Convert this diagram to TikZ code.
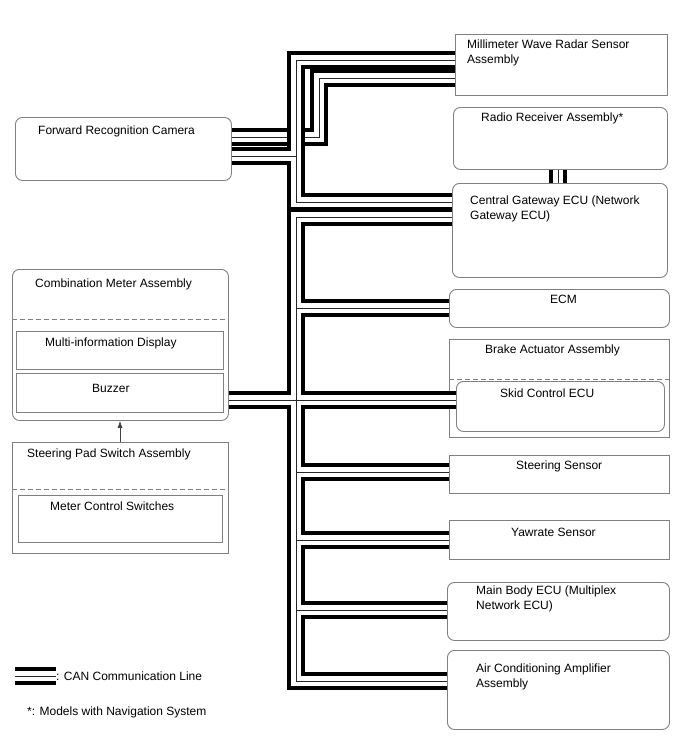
\documentclass[tikz,border=0pt]{standalone}
\usepackage{fontspec}
\setmainfont{Liberation Sans}
\usetikzlibrary{arrows.meta}
\definecolor{boxgray}{RGB}{128,128,128}
\tikzset{
  unit/.style={draw=boxgray, line width=0.9pt, anchor=north west, inner sep=0pt, rounded corners=7pt},
  plain/.style={draw=boxgray, line width=0.9pt, anchor=north west, inner sep=0pt},
  tag/.style={anchor=base west, inner sep=0pt, align=left, font=\fontsize{12}{15}\selectfont},
  sect/.style={draw=boxgray, line width=0.8pt, dash pattern=on 5pt off 3pt},
  can/.style={draw=white, line width=9.5pt,
    preaction={draw=black, line width=18.5pt},
    postaction={draw=black!85, line width=0.9pt}}
}

\begin{document}
\begin{tikzpicture}[x=1pt, y=-1pt]
  \useasboundingbox (0,0) rectangle (688,755);

  \node[plain, minimum width=212pt, minimum height=61pt] (radar) at (455,34) {};
  \node[unit, minimum width=214pt, minimum height=62pt] (radio) at (453,107) {};
  \node[unit, minimum width=216pt, minimum height=63pt] (cam) at (15,117) {};
  \node[unit, minimum width=215pt, minimum height=94pt] (gw) at (452,183) {};
  \node[unit, minimum width=216pt, minimum height=151pt] (comb) at (12,269) {};
  \node[plain, minimum width=207pt, minimum height=38pt] (mid) at (16,331) {};
  \node[plain, minimum width=207pt, minimum height=39pt] (buz) at (16,373) {};
  \node[plain, minimum width=216pt, minimum height=111pt] (pad) at (12,442) {};
  \node[plain, minimum width=204pt, minimum height=47pt] (mcs) at (18,495) {};
  \node[unit, minimum width=220pt, minimum height=38pt] (ecm) at (449,289) {};
  \node[plain, minimum width=220pt, minimum height=98pt] (brake) at (449,339) {};
  \node[unit, minimum width=208pt, minimum height=50pt] (skid) at (456,381) {};
  \node[plain, minimum width=220pt, minimum height=38pt] (sts) at (449,455) {};
  \node[plain, minimum width=220pt, minimum height=39pt] (yaw) at (449,520) {};
  \node[unit, minimum width=222pt, minimum height=58pt] (mbe) at (447,582) {};
  \node[unit, minimum width=222pt, minimum height=79pt] (aca) at (447,650) {};

  \draw[sect] (comb.west |- 0,319) -- (comb.east |- 0,319);
  \draw[sect] (pad.west |- 0,489) -- (pad.east |- 0,489);
  \draw[sect] (brake.west |- 0,379) -- (brake.east |- 0,379);

  \node[tag] (radartxt) at (467,63) {Millimeter Wave Radar Sensor\\Assembly};
  \node[tag] (radiotxt) at (481,121) {Radio Receiver Assembly*};
  \node[tag] (camtxt) at (38,134) {Forward Recognition Camera};
  \node[tag] (gwtxt) at (470,219) {Central Gateway ECU (Network\\Gateway ECU)};
  \node[tag] (combtxt) at (35,287) {Combination Meter Assembly};
  \node[tag] (midtxt) at (45,346) {Multi-information Display};
  \node[tag] (buztxt) at (92,392) {Buzzer};
  \node[tag] (padtxt) at (27,457) {Steering Pad Switch Assembly};
  \node[tag] (mcstxt) at (50,510) {Meter Control Switches};
  \node[tag] (ecmtxt) at (550,303) {ECM};
  \node[tag] (braketxt) at (485,353) {Brake Actuator Assembly};
  \node[tag] (skidtxt) at (500,397) {Skid Control ECU};
  \node[tag] (ststxt) at (516,469) {Steering Sensor};
  \node[tag] (yawtxt) at (511,536) {Yawrate Sensor};
  \node[tag] (mbetxt) at (476,609) {Main Body ECU (Multiplex\\Network ECU)};
  \node[tag] (acatxt) at (476,687) {Air Conditioning Amplifier\\Assembly};

  \draw[black!75, line width=0.7pt, -{Latex[length=7pt,width=5pt]}] (pad.north -| 120,0) -- (comb.south -| 120,0);

  \draw[can] (cam.east |- 0,137) -- (319,137) -- (319,78) -- (radar.west |- 0,78);
  \draw[can] (radar.west |- 0,60) -- (296,60) -- (296,202) -- (gw.west |- 0,202)
             (cam.east |- 0,156) -- (296,156);
  \draw[can] (gw.west |- 0,217) -- (296,217) -- (296,681) -- (aca.west |- 0,681)
             (296,308) -- (ecm.west |- 0,308)
             (comb.east |- 0,400) -- (skid.west |- 0,400)
             (296,472) -- (sts.west |- 0,472)
             (296,540) -- (yaw.west |- 0,540)
             (296,610) -- (mbe.west |- 0,610);
  \draw[can] (radio.south -| 558,0) -- (gw.north -| 558,0);

  \coordinate (keyA) at (15,676);
  \coordinate (keyB) at (56,676);
  \draw[can] (keyA) -- (keyB);
  \node[tag, anchor=west] (keytxt) at (keyB) {: CAN Communication Line};
  \node[tag] (notetxt) at (27,715) {*: Models with Navigation System};
\end{tikzpicture}
\end{document}
